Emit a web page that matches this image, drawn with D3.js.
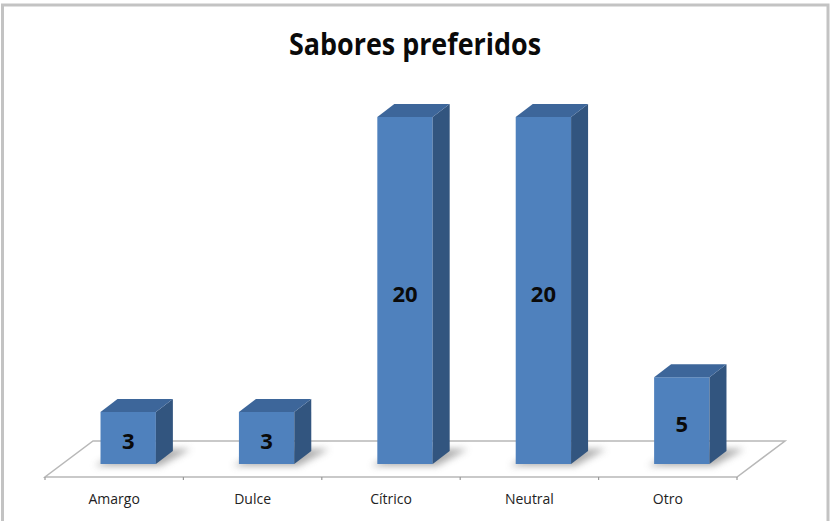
<!DOCTYPE html>
<html>
<head>
<meta charset="utf-8">
<script src="https://cdn.jsdelivr.net/npm/d3@7"></script>
<style>
  html, body { margin: 0; padding: 0; background: #fff; }
  svg { display: block; }
</style>
</head>
<body>
<svg id="chart" width="830" height="521"></svg>
<script>
// Chart data
const categories = ["Amargo", "Dulce", "Cítrico", "Neutral", "Otro"];
const values = [3, 3, 20, 20, 5];
const chartTitle = "Sabores preferidos";

const svg = d3.select("#chart");
const W = 830, H = 521;

// Outer frame
svg.append("rect")
  .attr("x", 2.5).attr("y", 5).attr("width", 825.5).attr("height", H + 10)
  .attr("fill", "#fff").attr("stroke", "#c3c3c3").attr("stroke-width", 3);

// Title
const title = svg.append("text")
  .attr("x", 415).attr("y", 55)
  .attr("text-anchor", "middle")
  .attr("font-family", "'Open Sans', sans-serif")
  .attr("font-weight", "bold")
  .attr("font-size", 30)
  .attr("fill", "#0a0a0a")
  .text(chartTitle);
title.attr("textLength", 252).attr("lengthAdjust", "spacingAndGlyphs");

// Floor geometry (oblique projection)
const floorLeft = 45, floorRight = 737, floorFront = 477;
const floorDx = 48, floorDy = -36;
const barDx = 17, barDy = -13;
const barBase = 464;

const x = d3.scaleBand().domain(categories).range([floorLeft, floorRight]).padding(0);
const y = d3.scaleLinear().domain([0, 20]).range([barBase, 117]);
const barW = x.bandwidth() * 0.4;
const barShift = 14; // front-face centre offset from the band centre

const defs = svg.append("defs");
defs.append("filter").attr("id", "shadowBlur")
  .attr("x", "-50%").attr("y", "-50%").attr("width", "200%").attr("height", "200%")
  .append("feGaussianBlur").attr("stdDeviation", 3.5);

// Floor plane
svg.append("path")
  .attr("d", `M${floorLeft},${floorFront} L${floorRight},${floorFront} L${floorRight + floorDx},${floorFront + floorDy} L${floorLeft + floorDx},${floorFront + floorDy} Z`)
  .attr("fill", "#fff").attr("stroke", "#b8b8b8").attr("stroke-width", 1.5);

// Tick marks along the front edge
const tickXs = categories.map(c => x(c)).concat([floorRight]);
svg.append("g").selectAll("line").data(tickXs).join("line")
  .attr("x1", d => d).attr("x2", d => d)
  .attr("y1", floorFront).attr("y2", floorFront + 3)
  .attr("stroke", "#9a9a9a").attr("stroke-width", 1.2);

const bars = svg.append("g").selectAll("g").data(categories.map((c, i) => ({ c, v: values[i] }))).join("g");

// Soft shadows on the floor
bars.append("path")
  .attr("d", d => {
    const l = x(d.c) + x.bandwidth() / 2 + barShift - barW / 2 - 6;
    const r = l + barW + 10;
    const b = barBase + 2;
    return `M${l},${b} L${r},${b} L${r + barDx + 14},${b + barDy - 4} L${l + barDx + 14},${b + barDy - 4} Z`;
  })
  .attr("fill", "#5f5f5f").attr("opacity", 0.5)
  .attr("filter", "url(#shadowBlur)");

// Front face
bars.append("rect")
  .attr("x", d => x(d.c) + x.bandwidth() / 2 + barShift - barW / 2)
  .attr("y", d => y(d.v))
  .attr("width", barW)
  .attr("height", d => barBase - y(d.v))
  .attr("fill", "#4f81bd");

// Side face
bars.append("path")
  .attr("d", d => {
    const r = x(d.c) + x.bandwidth() / 2 + barShift + barW / 2;
    const t = y(d.v);
    return `M${r},${t} L${r + barDx},${t + barDy} L${r + barDx},${barBase + barDy} L${r},${barBase} Z`;
  })
  .attr("fill", "#32557f");

// Top face
bars.append("path")
  .attr("d", d => {
    const l = x(d.c) + x.bandwidth() / 2 + barShift - barW / 2;
    const t = y(d.v);
    return `M${l},${t} L${l + barW},${t} L${l + barW + barDx},${t + barDy} L${l + barDx},${t + barDy} Z`;
  })
  .attr("fill", "#3d669a");

// Value labels
bars.append("text")
  .attr("x", d => x(d.c) + x.bandwidth() / 2 + barShift)
  .attr("y", d => (y(d.v) + barBase) / 2 + 11)
  .attr("text-anchor", "middle")
  .attr("font-family", "'Open Sans', sans-serif")
  .attr("font-weight", "bold")
  .attr("font-size", 22)
  .attr("fill", "#0a0a0a")
  .text(d => d.v);

// Category labels
svg.append("g").selectAll("text").data(categories).join("text")
  .attr("x", d => x(d) + x.bandwidth() / 2)
  .attr("y", 504)
  .attr("text-anchor", "middle")
  .attr("font-family", "'Open Sans', sans-serif")
  .attr("font-size", 14)
  .attr("fill", "#222")
  .text(d => d);
</script>
</body>
</html>
